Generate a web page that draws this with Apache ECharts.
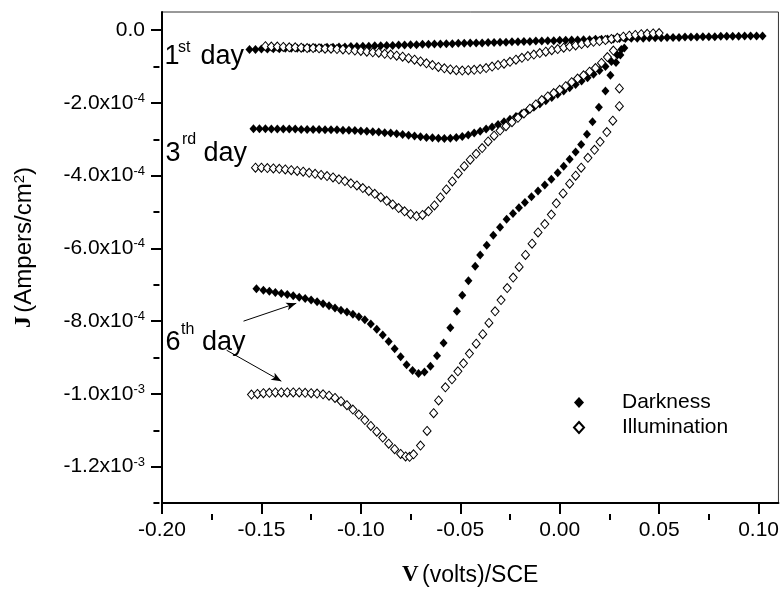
<!DOCTYPE html>
<html>
<head>
<meta charset="utf-8">
<script src="https://cdn.jsdelivr.net/npm/echarts@6/dist/echarts.min.js"></script>
<style>
  html, body { margin: 0; padding: 0; background: #fff; }
  #chart { width: 782px; height: 592px; }
</style>
</head>
<body>
<div id="chart"></div>
<script>
// V in volts vs SCE, J in units of 1e-4 A/cm2
const day1Dark = [[-0.156,-0.53],[-0.153,-0.53],[-0.150,-0.52],[-0.147,-0.52],[-0.144,-0.51],[-0.141,-0.51],[-0.138,-0.50],[-0.135,-0.50],[-0.132,-0.50],[-0.129,-0.49],[-0.126,-0.49],[-0.123,-0.48],[-0.120,-0.48],[-0.117,-0.47],[-0.114,-0.47],[-0.111,-0.46],[-0.108,-0.46],[-0.105,-0.45],[-0.102,-0.45],[-0.099,-0.44],[-0.096,-0.44],[-0.093,-0.43],[-0.090,-0.43],[-0.087,-0.42],[-0.084,-0.42],[-0.081,-0.41],[-0.078,-0.41],[-0.075,-0.40],[-0.072,-0.40],[-0.069,-0.39],[-0.066,-0.39],[-0.063,-0.38],[-0.060,-0.38],[-0.057,-0.37],[-0.054,-0.37],[-0.051,-0.36],[-0.048,-0.36],[-0.045,-0.35],[-0.042,-0.35],[-0.039,-0.35],[-0.036,-0.34],[-0.033,-0.34],[-0.030,-0.33],[-0.027,-0.33],[-0.024,-0.32],[-0.021,-0.32],[-0.018,-0.31],[-0.015,-0.31],[-0.012,-0.30],[-0.009,-0.30],[-0.006,-0.29],[-0.003,-0.29],[0.000,-0.28],[0.003,-0.28],[0.006,-0.27],[0.009,-0.27],[0.012,-0.26],[0.015,-0.26],[0.018,-0.25],[0.021,-0.25],[0.024,-0.24],[0.027,-0.24],[0.030,-0.23],[0.033,-0.23],[0.036,-0.22],[0.039,-0.22],[0.042,-0.22],[0.045,-0.21],[0.048,-0.21],[0.051,-0.21],[0.054,-0.20],[0.057,-0.20],[0.060,-0.20],[0.063,-0.19],[0.066,-0.19],[0.069,-0.19],[0.072,-0.18],[0.075,-0.18],[0.078,-0.18],[0.081,-0.17],[0.084,-0.17],[0.087,-0.17],[0.090,-0.17],[0.093,-0.16],[0.096,-0.16],[0.099,-0.16],[0.102,-0.16]];

const day1Illum = [[-0.148,-0.44],[-0.145,-0.45],[-0.142,-0.45],[-0.139,-0.46],[-0.136,-0.47],[-0.133,-0.47],[-0.130,-0.48],[-0.127,-0.49],[-0.124,-0.49],[-0.121,-0.50],[-0.118,-0.51],[-0.115,-0.51],[-0.112,-0.52],[-0.109,-0.53],[-0.106,-0.54],[-0.103,-0.56],[-0.100,-0.57],[-0.097,-0.59],[-0.094,-0.61],[-0.091,-0.62],[-0.088,-0.65],[-0.085,-0.67],[-0.082,-0.70],[-0.079,-0.73],[-0.076,-0.77],[-0.073,-0.81],[-0.070,-0.86],[-0.067,-0.91],[-0.064,-0.96],[-0.061,-1.01],[-0.058,-1.05],[-0.055,-1.08],[-0.052,-1.10],[-0.049,-1.11],[-0.046,-1.10],[-0.043,-1.09],[-0.040,-1.07],[-0.037,-1.04],[-0.034,-1.00],[-0.031,-0.96],[-0.028,-0.92],[-0.025,-0.87],[-0.022,-0.81],[-0.019,-0.76],[-0.016,-0.71],[-0.013,-0.67],[-0.010,-0.63],[-0.007,-0.59],[-0.004,-0.55],[-0.001,-0.52],[0.002,-0.48],[0.005,-0.45],[0.008,-0.42],[0.011,-0.38],[0.014,-0.35],[0.017,-0.32],[0.020,-0.30],[0.023,-0.27],[0.026,-0.24],[0.029,-0.21],[0.032,-0.18],[0.035,-0.15],[0.038,-0.13],[0.041,-0.11],[0.044,-0.10],[0.047,-0.09],[0.050,-0.08]];

const day3Dark = [[-0.154,-2.71],[-0.151,-2.71],[-0.148,-2.71],[-0.145,-2.72],[-0.142,-2.72],[-0.139,-2.72],[-0.136,-2.72],[-0.133,-2.72],[-0.130,-2.73],[-0.127,-2.73],[-0.124,-2.73],[-0.121,-2.73],[-0.118,-2.74],[-0.115,-2.74],[-0.112,-2.74],[-0.109,-2.75],[-0.106,-2.75],[-0.103,-2.76],[-0.100,-2.77],[-0.097,-2.78],[-0.094,-2.79],[-0.091,-2.80],[-0.088,-2.82],[-0.085,-2.83],[-0.082,-2.85],[-0.079,-2.87],[-0.076,-2.89],[-0.073,-2.91],[-0.070,-2.93],[-0.067,-2.95],[-0.064,-2.96],[-0.061,-2.97],[-0.058,-2.98],[-0.055,-2.97],[-0.052,-2.95],[-0.049,-2.92],[-0.046,-2.88],[-0.043,-2.83],[-0.040,-2.78],[-0.037,-2.72],[-0.034,-2.66],[-0.031,-2.59],[-0.028,-2.52],[-0.025,-2.45],[-0.022,-2.37],[-0.019,-2.29],[-0.016,-2.21],[-0.013,-2.12],[-0.010,-2.03],[-0.007,-1.94],[-0.004,-1.85],[-0.001,-1.76],[0.002,-1.67],[0.005,-1.58],[0.008,-1.49],[0.011,-1.40],[0.014,-1.31],[0.017,-1.21],[0.020,-1.11],[0.023,-1.00],[0.026,-0.86],[0.029,-0.68],[0.031,-0.53]];

const day3Illum = [[-0.153,-3.78],[-0.150,-3.78],[-0.147,-3.79],[-0.144,-3.80],[-0.141,-3.81],[-0.138,-3.83],[-0.135,-3.85],[-0.132,-3.87],[-0.129,-3.89],[-0.126,-3.92],[-0.123,-3.95],[-0.120,-3.98],[-0.117,-4.01],[-0.114,-4.05],[-0.111,-4.10],[-0.108,-4.15],[-0.105,-4.21],[-0.102,-4.27],[-0.099,-4.34],[-0.096,-4.42],[-0.093,-4.50],[-0.090,-4.59],[-0.087,-4.69],[-0.084,-4.79],[-0.081,-4.89],[-0.078,-4.98],[-0.075,-5.06],[-0.072,-5.11],[-0.069,-5.08],[-0.066,-4.98],[-0.063,-4.82],[-0.060,-4.60],[-0.057,-4.38],[-0.054,-4.16],[-0.051,-3.94],[-0.048,-3.74],[-0.045,-3.56],[-0.042,-3.40],[-0.039,-3.24],[-0.036,-3.06],[-0.033,-2.90],[-0.030,-2.76],[-0.027,-2.64],[-0.024,-2.53],[-0.021,-2.41],[-0.018,-2.29],[-0.015,-2.16],[-0.012,-2.04],[-0.009,-1.92],[-0.006,-1.82],[-0.003,-1.73],[0.000,-1.64],[0.003,-1.54],[0.006,-1.43],[0.009,-1.33],[0.012,-1.24],[0.015,-1.14],[0.018,-1.04],[0.021,-0.90],[0.024,-0.74],[0.027,-0.56]];

const day6Dark = [[-0.1525,-7.11],[-0.149,-7.15],[-0.146,-7.18],[-0.143,-7.21],[-0.140,-7.24],[-0.137,-7.27],[-0.134,-7.30],[-0.131,-7.34],[-0.128,-7.38],[-0.125,-7.42],[-0.122,-7.47],[-0.119,-7.52],[-0.116,-7.58],[-0.113,-7.64],[-0.110,-7.70],[-0.107,-7.75],[-0.104,-7.81],[-0.101,-7.88],[-0.098,-7.96],[-0.095,-8.08],[-0.092,-8.22],[-0.089,-8.38],[-0.086,-8.56],[-0.083,-8.76],[-0.080,-8.98],[-0.077,-9.20],[-0.074,-9.36],[-0.071,-9.44],[-0.068,-9.40],[-0.065,-9.24],[-0.0617,-8.95],[-0.0584,-8.60],[-0.055,-8.18],[-0.0517,-7.73],[-0.049,-7.29],[-0.0459,-6.89],[-0.0425,-6.49],[-0.040,-6.18],[-0.0367,-5.91],[-0.0334,-5.64],[-0.030,-5.42],[-0.0267,-5.20],[-0.0235,-5.04],[-0.0205,-4.88],[-0.0175,-4.74],[-0.0142,-4.58],[-0.0109,-4.42],[-0.0075,-4.26],[-0.0042,-4.10],[-0.0010,-3.92],[0.0020,-3.74],[0.0050,-3.55],[0.0080,-3.35],[0.0108,-3.14],[0.0137,-2.86],[0.0165,-2.52],[0.0197,-2.12],[0.0230,-1.67],[0.0255,-1.24],[0.0283,-0.89],[0.0305,-0.68],[0.0325,-0.49]];

const day6Illum = [[-0.155,-10.02],[-0.152,-10.00],[-0.149,-9.98],[-0.146,-9.97],[-0.143,-9.96],[-0.140,-9.96],[-0.137,-9.96],[-0.134,-9.96],[-0.131,-9.96],[-0.128,-9.97],[-0.125,-9.98],[-0.122,-9.99],[-0.119,-10.01],[-0.116,-10.05],[-0.113,-10.11],[-0.110,-10.20],[-0.107,-10.31],[-0.104,-10.43],[-0.101,-10.57],[-0.098,-10.72],[-0.095,-10.88],[-0.092,-11.04],[-0.089,-11.20],[-0.086,-11.37],[-0.083,-11.52],[-0.080,-11.65],[-0.0775,-11.72],[-0.0755,-11.73],[-0.0735,-11.66],[-0.0700,-11.42],[-0.0667,-11.02],[-0.0634,-10.53],[-0.0609,-10.18],[-0.0575,-9.82],[-0.0542,-9.60],[-0.0512,-9.38],[-0.0484,-9.16],[-0.0454,-8.89],[-0.0420,-8.62],[-0.0387,-8.36],[-0.0356,-8.05],[-0.0325,-7.73],[-0.0295,-7.42],[-0.0264,-7.09],[-0.0234,-6.80],[-0.0204,-6.51],[-0.0172,-6.18],[-0.0139,-5.87],[-0.0109,-5.56],[-0.0075,-5.33],[-0.0042,-5.07],[-0.0017,-4.76],[0.0017,-4.49],[0.0050,-4.22],[0.0080,-4.00],[0.0108,-3.78],[0.0142,-3.51],[0.0175,-3.29],[0.0203,-3.07],[0.0237,-2.80],[0.0267,-2.49],[0.0300,-2.09],[0.0300,-1.60]];

// axis ticks
const xMajor = [-0.20, -0.15, -0.10, -0.05, 0.00, 0.05, 0.10];
const xMinor = [-0.175, -0.125, -0.075, -0.025, 0.025, 0.075];
const yMajor = [0, -2, -4, -6, -8, -10, -12];
const yMinor = [-1, -3, -5, -7, -9, -11, -13];
const yMantissa = ['0.0', '-2.0x10', '-4.0x10', '-6.0x10', '-8.0x10', '-1.0x10', '-1.2x10'];
const yExponent = ['', '-4', '-4', '-4', '-4', '-3', '-3'];

// arrows from the "6th day" note, in data units
const arrowDark = [[-0.159, -8.0], [-0.1325, -7.51]];
const arrowIllum = [[-0.1675, -8.8], [-0.140, -9.65]];

const SANS = 'Liberation Sans, Arial, sans-serif';
const SERIF = 'Liberation Serif, Times New Roman, serif';

const grid = { left: 162, top: 12, right: 1, bottom: 78 };
const gridW = 782 - grid.left - grid.right;
const gridH = 592 - grid.top - grid.bottom;

const chart = echarts.init(document.getElementById('chart'));

function darkSeries(name, data) {
  return {
    name: name, type: 'scatter', data: data,
    symbol: 'diamond', symbolSize: [8, 9],
    itemStyle: { color: '#000', opacity: 1 },
    emphasis: { disabled: true }, silent: true
  };
}
function illumSeries(name, data) {
  return {
    name: name, type: 'scatter', data: data,
    symbol: 'diamond', symbolSize: [8, 9],
    itemStyle: { color: '#fff', borderColor: '#000', borderWidth: 1, opacity: 1 },
    emphasis: { disabled: true }, silent: true
  };
}

const arrowLine = (a) => [
  { coord: a[0], symbol: 'none' },
  { coord: a[1], symbol: 'arrow', symbolSize: [6, 10] }
];

const series = [
  darkSeries('Darkness', day1Dark),
  darkSeries('Darkness', day3Dark),
  darkSeries('Darkness', day6Dark),
  illumSeries('Illumination', day1Illum),
  illumSeries('Illumination', day3Illum),
  illumSeries('Illumination', day6Illum)
];
series[2].markLine = {
  silent: true,
  animation: false,
  label: { show: false },
  lineStyle: { color: '#000', width: 1, type: 'solid' },
  data: [arrowLine(arrowDark), arrowLine(arrowIllum)]
};

// "1st day" style notes: number, superscript, "day"
function note(x, yMid, num, sup, supX, supMid, dayX) {
  return [
    { type: 'text', x: x, y: yMid, style: { text: num, fontSize: 27, fontFamily: SANS, fill: '#000', align: 'left', verticalAlign: 'middle' } },
    { type: 'text', x: supX, y: supMid, style: { text: sup, fontSize: 16, fontFamily: SANS, fill: '#000', align: 'left', verticalAlign: 'middle' } },
    { type: 'text', x: dayX, y: yMid, style: { text: 'day', fontSize: 27, fontFamily: SANS, fill: '#000', align: 'left', verticalAlign: 'middle' } }
  ];
}

const option = {
  animation: false,
  backgroundColor: '#fff',
  grid: Object.assign({ show: true, borderColor: '#333', borderWidth: 1, containLabel: false }, grid),
  legend: {
    orient: 'vertical',
    left: 568, top: 387,
    itemWidth: 10, itemHeight: 11, itemGap: 4,
    selectedMode: false,
    data: ['Darkness', 'Illumination'],
    textStyle: { fontSize: 21, fontFamily: SANS, color: '#000', lineHeight: 21, padding: [0, 0, 0, 33] }
  },
  xAxis: [
    {
      type: 'value', min: -0.20, max: 0.11,
      position: 'bottom',
      name: '{v|V} {t|(volts)/SCE}',
      nameLocation: 'middle', nameGap: 61,
      nameTextStyle: {
        rich: {
          v: { fontFamily: SERIF, fontWeight: 'bold', fontSize: 23, color: '#000' },
          t: { fontFamily: SANS, fontSize: 23, color: '#000' }
        }
      },
      axisLine: { show: true, onZero: false, lineStyle: { color: '#000', width: 2 } },
      axisTick: { show: true, inside: false, length: 11, customValues: xMajor, lineStyle: { color: '#000', width: 2 } },
      axisLabel: { customValues: xMajor, margin: 17, fontSize: 21, fontFamily: SANS, color: '#000', lineHeight: 21, formatter: v => v.toFixed(2) },
      splitLine: { show: false }
    },
    {
      // minor ticks, moved down onto the bottom edge
      type: 'value', min: -0.20, max: 0.11,
      position: 'top', offset: -gridH,
      axisLine: { show: false, onZero: false },
      axisTick: { show: true, inside: true, length: 6, customValues: xMinor, lineStyle: { color: '#000', width: 2 } },
      axisLabel: { show: false },
      splitLine: { show: false }
    }
  ],
  yAxis: [
    {
      type: 'value', min: -13, max: 0.5,
      position: 'left',
      name: '{j|J} {t|(Ampers/cm}{s|2}{t|)}',
      nameLocation: 'middle', nameGap: 126, nameRotate: 90,
      nameTextStyle: {
        padding: [0, 0, 0, 20],
        rich: {
          j: { fontFamily: SERIF, fontWeight: 'bold', fontSize: 24, color: '#000' },
          t: { fontFamily: SANS, fontSize: 24, color: '#000' },
          s: { fontFamily: SANS, fontSize: 15, color: '#000', verticalAlign: 'top' }
        }
      },
      axisLine: { show: true, onZero: false, lineStyle: { color: '#000', width: 2 } },
      axisTick: { show: true, inside: false, length: 11, customValues: yMajor, lineStyle: { color: '#000', width: 2 } },
      axisLabel: {
        customValues: yMajor, margin: 17, color: '#000',
        formatter: v => {
          const i = yMajor.indexOf(Math.round(v));
          if (i < 0) return '';
          return yExponent[i] ? '{m|' + yMantissa[i] + '}{e|' + yExponent[i] + '}' : '{m|' + yMantissa[i] + '}';
        },
        rich: {
          m: { fontSize: 21, fontFamily: SANS, color: '#000', lineHeight: 22 },
          e: { fontSize: 13, fontFamily: SANS, color: '#000', lineHeight: 13, verticalAlign: 'top' }
        }
      },
      splitLine: { show: false }
    },
    {
      // minor ticks, moved left onto the left edge
      type: 'value', min: -13, max: 0.5,
      position: 'right', offset: -gridW,
      axisLine: { show: false, onZero: false },
      axisTick: { show: true, inside: true, length: 6, customValues: yMinor, lineStyle: { color: '#000', width: 2 } },
      axisLabel: { show: false },
      splitLine: { show: false }
    }
  ],
  graphic: [].concat(
    note(164.5, 56.3, '1', 'st', 178, 47.8, 200.5),
    note(165.5, 154, '3', 'rd', 182, 140, 203.5),
    note(165.5, 342.3, '6', 'th', 181, 329.5, 202)
  ),
  series: series
};

chart.setOption(option);
</script>
</body>
</html>
